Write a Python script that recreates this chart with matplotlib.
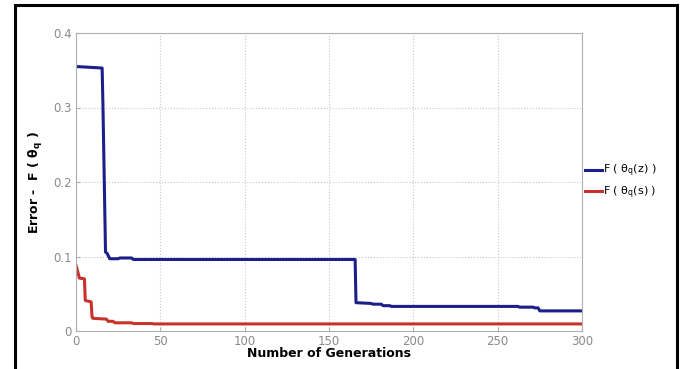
import matplotlib
matplotlib.use("Agg")
import matplotlib.pyplot as plt
from matplotlib.patches import Rectangle

# blue curve F(theta_q(z))
gen_z = [0, 15.5, 16, 17.5, 18.5, 20, 25, 26, 33, 34, 165.5, 166, 175, 176,
         181, 182, 186, 187, 262, 263, 271, 272, 274, 275, 300]
err_z = [0.355, 0.353, 0.30, 0.106, 0.104, 0.097, 0.097, 0.098, 0.098, 0.096,
         0.096, 0.038, 0.037, 0.036, 0.036, 0.034, 0.034, 0.033, 0.033, 0.032,
         0.032, 0.031, 0.031, 0.027, 0.027]
# red curve F(theta_q(s))
gen_s = [0, 1, 2, 5, 5.5, 9, 9.5, 10, 18, 19, 22, 23, 33, 34, 45, 46, 300]
err_s = [0.088, 0.080, 0.071, 0.070, 0.041, 0.039, 0.019, 0.017, 0.016, 0.013,
         0.013, 0.011, 0.011, 0.010, 0.010, 0.0095, 0.0095]

xticks = [0, 50, 100, 150, 200, 250, 300]
yticks = [0, 0.1, 0.2, 0.3, 0.4]
ytlabels = ["0", "0.1", "0.2", "0.3", "0.4"]

fig = plt.figure(figsize=(6.82, 3.69), dpi=100)
fig.patches.append(Rectangle((15 / 682, -0.05), 662 / 682, 1 - 5 / 369 + 0.05,
                             transform=fig.transFigure, fill=False,
                             edgecolor="black", lw=2.2))
ax = fig.add_axes([76 / 682, 1 - 331 / 369, 506 / 682, 298 / 369])
ax.plot(gen_z, err_z, color="#1c1f8a", lw=2.2, label="F ( θ$_\\mathregular{q}$(z) )")
ax.plot(gen_s, err_s, color="#c8322c", lw=2.2, label="F ( θ$_\\mathregular{q}$(s) )")
ax.set_xlim(0, 300)
ax.set_ylim(0, 0.4)
ax.set_xticks(xticks)
ax.set_yticks(yticks)
ax.set_yticklabels(ytlabels)
ax.grid(True, ls=":", color="#c8c8c8", lw=0.8)
for s in ax.spines.values():
    s.set_color("#b0b0b0")
    s.set_linewidth(0.8)
ax.tick_params(colors="#b0b0b0", labelcolor="#8a8a8a", labelsize=8.5,
               direction="in", length=3, pad=3)
ax.set_xlabel("Number of Generations", fontweight="bold", fontsize=9, labelpad=-1)
ax.set_ylabel("Error -  F ( θ$_\\mathregular{q}$ )", fontweight="bold", fontsize=9,
              labelpad=6)
ax.legend(loc="center left", bbox_to_anchor=(0.998, 0.5), frameon=False,
          fontsize=8, handlelength=1.5, handletextpad=0.1, labelspacing=0.5,
          borderaxespad=0)
fig.savefig("out.png", dpi=100)
